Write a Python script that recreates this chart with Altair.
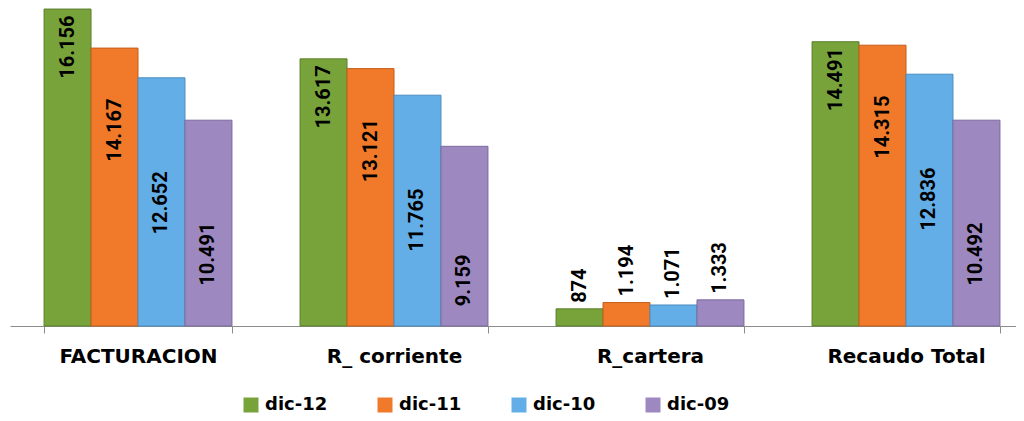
import altair as alt
import pandas as pd

categories = ["FACTURACION", "R_ corriente", "R_cartera", "Recaudo Total"]
series = ["dic-12", "dic-11", "dic-10", "dic-09"]
dic_12 = [16156, 13617, 874, 14491]
dic_11 = [14167, 13121, 1194, 14315]
dic_10 = [12652, 11765, 1071, 12836]
dic_09 = [10491, 9159, 1333, 10492]
colors = ["#78A33B", "#F07A2A", "#63AEE6", "#9D88BF"]
strokes = ["#5C7F2A", "#C45E1B", "#4A8CC0", "#7C6A9C"]
label_drop = {"dic-12": 38, "dic-11": 82, "dic-10": 125, "dic-09": 134}

rows = []
for s, vals in zip(series, [dic_12, dic_11, dic_10, dic_09]):
    for c, v in zip(categories, vals):
        rows.append({"cat": c, "serie": s, "valor": v,
                     "label": f"{v:,}".replace(",", ".")})
df = pd.DataFrame(rows)

x = alt.X("cat:N", sort=categories,
          scale=alt.Scale(range=[0, 1024], paddingInner=0.266, paddingOuter=0.133),
          axis=alt.Axis(title=None, labelAngle=0, tickBand="extent",
                        labelFont="DejaVu Sans", labelFontWeight="bold",
                        labelFontSize=20, labelColor="#000000",
                        domainColor="#8C8C8C", tickColor="#8C8C8C",
                        tickSize=7, labelPadding=13))
xo = alt.XOffset("serie:N", sort=series,
                 scale=alt.Scale(paddingInner=0, paddingOuter=0))
y = alt.Y("valor:Q", scale=alt.Scale(domain=[0, 16210], nice=False), axis=None)

base = alt.Chart(df)

bars = base.mark_bar(strokeWidth=1).encode(
    x=x, xOffset=xo, y=y,
    color=alt.Color("serie:N", sort=series,
                    scale=alt.Scale(domain=series, range=colors),
                    legend=alt.Legend(title=None, orient="none", direction="horizontal",
                                      legendX=232, legendY=388,
                                      symbolType="square", symbolSize=225,
                                      symbolStrokeWidth=0, symbolOpacity=1,
                                      labelFont="DejaVu Sans", labelFontWeight="bold",
                                      labelFontSize=18, labelColor="#000000",
                                      labelOffset=5, columnPadding=48)),
    stroke=alt.Stroke("serie:N", sort=series,
                      scale=alt.Scale(domain=series, range=strokes), legend=None),
)

layers = [bars]
for s in series:
    layers.append(
        base.transform_filter(
            (alt.datum.serie == s) & (alt.datum.cat != "R_cartera")
        ).mark_text(angle=270, align="center", baseline="middle",
                    dx=-label_drop[s], font="Roboto", fontWeight="bold",
                    fontSize=20, color="#000000").encode(
            x=x, xOffset=xo, y=y, text="label:N")
    )
layers.append(
    base.transform_filter(alt.datum.cat == "R_cartera").mark_text(
        angle=270, align="left", baseline="middle", dx=6, font="Roboto",
        fontWeight="bold", fontSize=20, color="#000000").encode(
        x=x, xOffset=xo, y=y, text="label:N")
)

chart = alt.layer(*layers).properties(
    width=1006, height=318,
    padding={"left": 2, "top": 0, "right": 0, "bottom": 87},
    autosize="none",
).configure_view(strokeWidth=0)

chart.save("out.html", embed_options={"renderer": "svg", "actions": False})
